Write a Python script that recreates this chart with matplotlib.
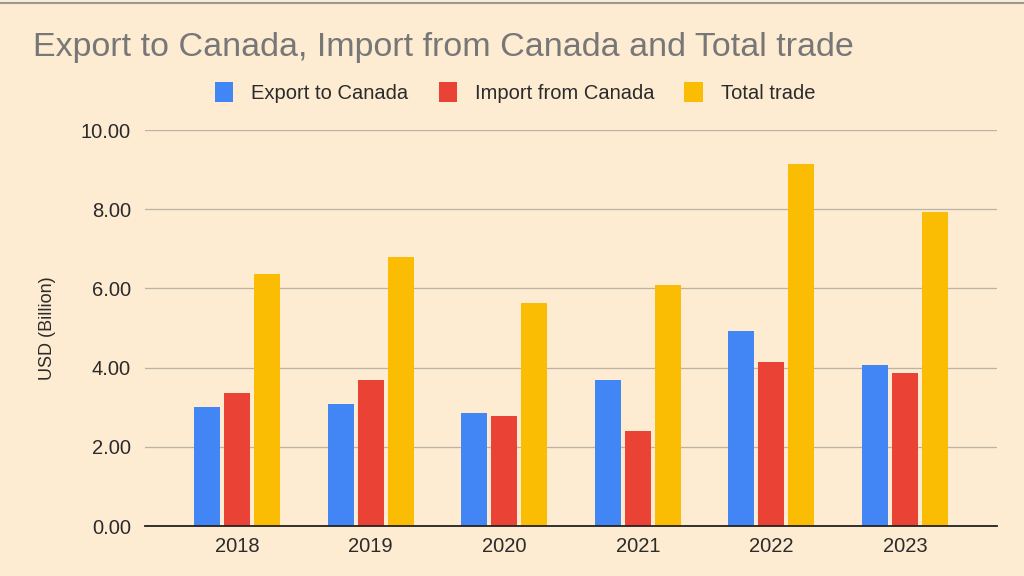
import numpy as np
import matplotlib
matplotlib.use("Agg")
import matplotlib.pyplot as plt
from matplotlib.patches import Patch

# DATA (USD billion)
years = ["2018", "2019", "2020", "2021", "2022", "2023"]
export_to_canada = [3.01, 3.08, 2.85, 3.69, 4.93, 4.07]
import_from_canada = [3.36, 3.69, 2.77, 2.40, 4.15, 3.87]
total_trade = [6.37, 6.80, 5.62, 6.08, 9.14, 7.94]

series_names = ["Export to Canada", "Import from Canada", "Total trade"]
colors = ["#4285F4", "#EA4335", "#FBBC04"]
bg = "#FDEBD2"

plt.rcParams['font.family'] = ['Liberation Sans', 'DejaVu Sans']

fig = plt.figure(figsize=(10.24, 5.76), dpi=100, facecolor=bg)
ax = fig.add_axes([0.1416, 0.0868, 0.832, 0.6875])
ax.set_facecolor(bg)

x = np.arange(len(years))
w = 0.195
off = 0.225
for i, (vals, c) in enumerate(zip([export_to_canada, import_from_canada, total_trade], colors)):
    ax.bar(x + (i - 1) * off, vals, width=w, color=c, zorder=3)

ax.set_xlim(-0.69, 5.69)
ax.set_ylim(0, 10)
ax.set_yticks(np.arange(0, 10.01, 2))
ax.set_yticklabels([f"{v:.2f}" for v in np.arange(0, 10.01, 2)])
ax.set_xticks(x)
ax.set_xticklabels(years)
ax.tick_params(axis='both', length=0, labelsize=14.5, colors="#2b2b2b")
ax.tick_params(axis='y', pad=10)
ax.tick_params(axis='x', pad=8)
ax.grid(axis='y', color="#bdb3a3", linewidth=0.9, zorder=0)
for s in ["top", "right", "left"]:
    ax.spines[s].set_visible(False)
ax.spines["bottom"].set_color("#222222")
ax.spines["bottom"].set_linewidth(1.3)
ax.spines["bottom"].set_zorder(4)

ax.set_ylabel("USD (Billion)", fontsize=13, color="#2b2b2b", labelpad=18)

fig.text(0.032, 0.918, "Export to Canada, Import from Canada and Total trade",
         fontsize=24.5, color="#777777", va="center", ha="left")

handles = [Patch(facecolor=c, edgecolor="none") for c in colors]
fig.legend(handles, series_names, loc="center", bbox_to_anchor=(0.503, 0.84), ncol=3,
           frameon=False, fontsize=14.5, handlelength=0.9, handleheight=1.2,
           handletextpad=0.9, columnspacing=1.5, labelcolor="#2b2b2b")

# thin gray line along the top edge
fig.add_artist(plt.Line2D([0, 1], [0.995, 0.995], color="#9a9a9a", linewidth=1.5))

fig.savefig("out.png", dpi=100, facecolor=bg)
